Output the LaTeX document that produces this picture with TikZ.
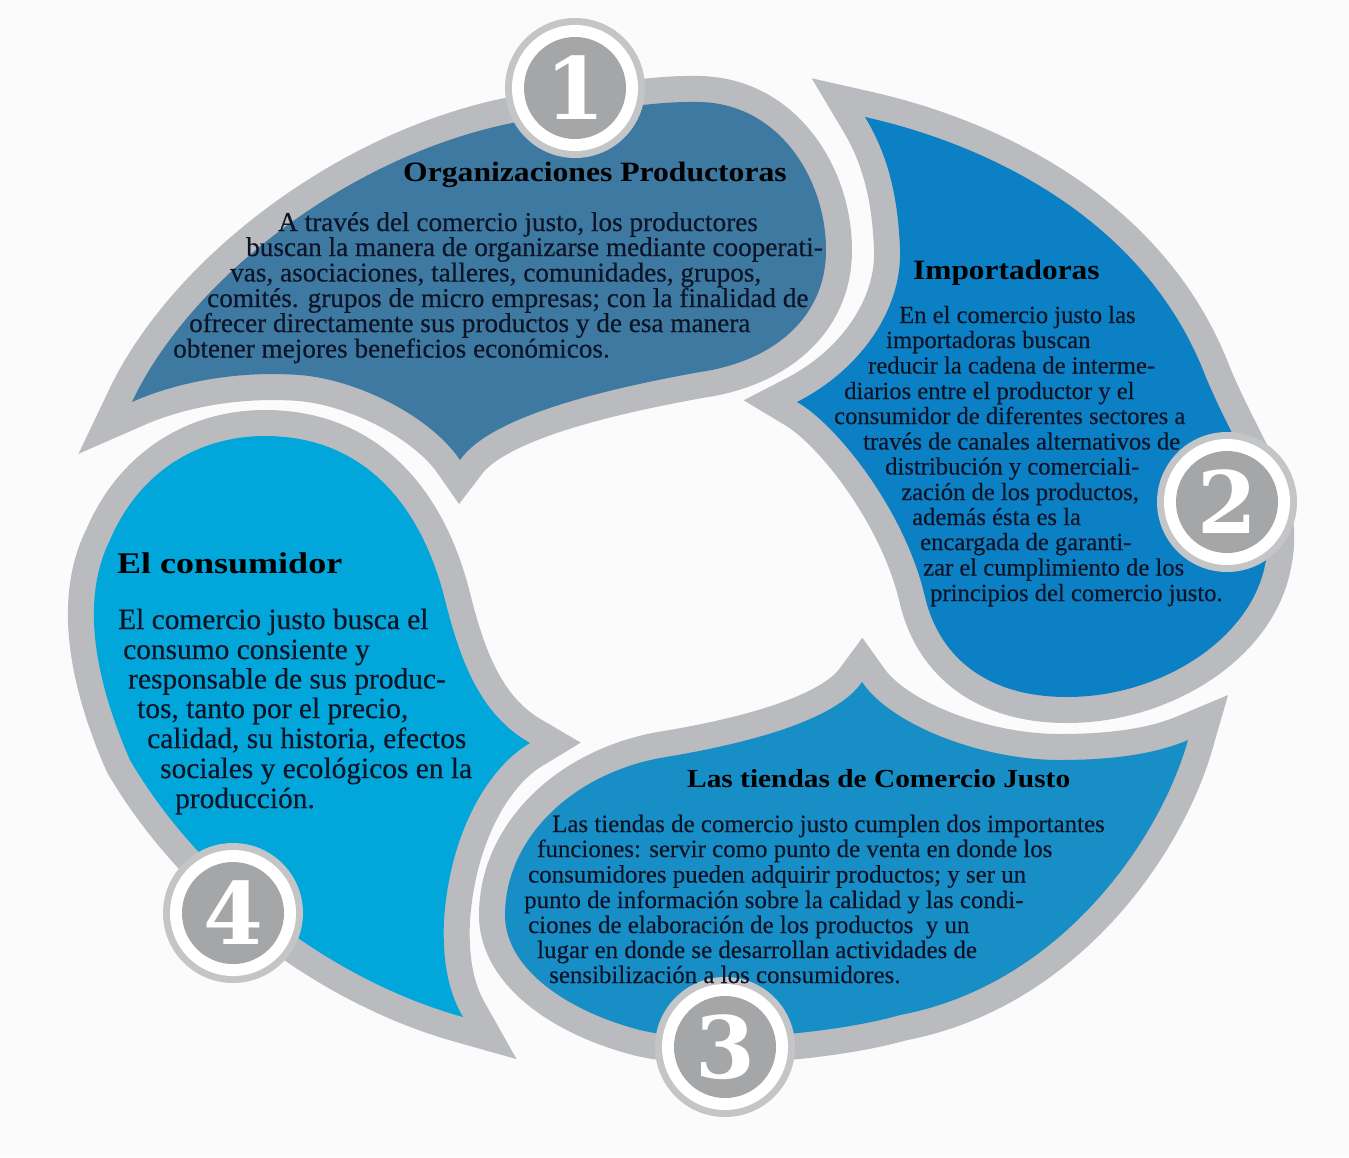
\documentclass[tikz,border=0pt]{standalone}
\usepackage{fontspec}
\setmainfont{Liberation Serif}
\newfontfamily\digitfont{DejaVu Serif}

\definecolor{bgcol}{RGB}{251,251,251}
\definecolor{bandgray}{RGB}{186,187,190}
\definecolor{orgblue}{RGB}{61,121,161}
\definecolor{impblue}{RGB}{11,128,196}
\definecolor{tieblue}{RGB}{24,142,199}
\definecolor{conblue}{RGB}{1,166,219}
\definecolor{diskgray}{RGB}{165,166,168}
\definecolor{ringgray}{RGB}{196,197,199}
\definecolor{inkcol}{RGB}{12,20,38}

% the four drops, in picture pixels (y grows downwards)
\def\shapeOrg{(826,250)
  .. controls (826,320) and (770,362) .. (700,372)
  .. controls (600,390) and (490,417) .. (460,460)
  .. controls (432,418) and (360,380) .. (300,375)
  .. controls (230,370) and (170,385) .. (132,402)
  .. controls (195,268) and (380,132) .. (560,116)
  .. controls (620,108) and (660,101) .. (700,102)
  .. controls (780,104) and (826,180) .. (826,250) -- cycle}
\def\shapeImp{(1265,565)
  .. controls (1250,640) and (1160,697) .. (1067,697)
  .. controls (990,697) and (940,660) .. (925,597)
  .. controls (905,510) and (836,424) .. (797,402)
  .. controls (860,370) and (902,310) .. (900,250)
  .. controls (898,190) and (885,150) .. (865,117)
  .. controls (990,145) and (1145,220) .. (1205,375)
  .. controls (1240,460) and (1280,500) .. (1265,565) -- cycle}
\def\shapeTie{(1060,760)
  .. controls (1120,760) and (1160,752) .. (1188,740)
  .. controls (1160,840) and (1060,985) .. (900,1015)
  .. controls (830,1035) and (700,1045) .. (640,1030)
  .. controls (570,1012) and (505,970) .. (505,915)
  .. controls (505,840) and (570,775) .. (660,758)
  .. controls (740,745) and (835,722) .. (862,682)
  .. controls (890,724) and (980,760) .. (1060,760) -- cycle}
\def\shapeCon{(110,540)
  .. controls (140,470) and (200,436) .. (265,436)
  .. controls (360,436) and (420,500) .. (445,600)
  .. controls (460,660) and (480,715) .. (530,743)
  .. controls (490,766) and (450,830) .. (444,920)
  .. controls (442,965) and (450,995) .. (463,1017)
  .. controls (330,980) and (200,880) .. (130,760)
  .. controls (95,680) and (80,600) .. (110,540) -- cycle}

\begin{document}
\begin{tikzpicture}[x=1pt,y=-1pt,
  band/.style={draw=bandgray,line width=52pt,line join=miter},
  txt/.style={anchor=base west,inner sep=0pt,text=inkcol},
  head/.style={txt,text=black},
  numdisk/.style={circle,inner sep=0pt,minimum size=102pt,fill=diskgray,
    text=white,font=\digitfont\bfseries\fontsize{86}{86}\selectfont}]

\fill[bgcol] (0,0) rectangle (1349,1157);
\useasboundingbox (0,0) rectangle (1349,1157);

% grey rims first, then the coloured drops
\path[band] \shapeOrg;
\path[band] \shapeImp;
\path[band] \shapeTie;
\path[band] \shapeCon;
\fill[orgblue] \shapeOrg;
\fill[impblue] \shapeImp;
\fill[tieblue] \shapeTie;
\fill[conblue] \shapeCon;

% numbered badges
\foreach \n/\cx/\cy in {1/575/88,2/1227/502,3/725/1047,4/233/913} {
  \fill[ringgray] (\cx,\cy) circle[radius=70pt];
  \fill[white] (\cx,\cy) circle[radius=63pt];
  \node[numdisk] (num\n) at (\cx,\cy) {\n};
}

% titles
\node[head,font=\bfseries\fontsize{28}{30}\selectfont\addfontfeatures{FakeStretch=1.13}]
  (orgtitle) at (403,181) {Organizaciones Productoras};
\node[head,font=\bfseries\fontsize{28}{30}\selectfont\addfontfeatures{FakeStretch=1.12}]
  (imptitle) at (913,279) {Importadoras};
\node[head,font=\bfseries\fontsize{26}{30}\selectfont\addfontfeatures{FakeStretch=1.13}]
  (tietitle) at (687,787) {Las tiendas de Comercio Justo};
\node[head,font=\bfseries\fontsize{30}{32}\selectfont\addfontfeatures{FakeStretch=1.2}]
  (contitle) at (117,573) {El consumidor};

% body lines
\foreach [count=\i] \x/\y/\t in {
  278/231/{A través del comercio justo, los productores},
  246/256/{buscan la manera de organizarse mediante cooperati-},
  230/281.5/{vas, asociaciones, talleres, comunidades, grupos,},
  207/307/{comités. grupos de micro empresas; con la finalidad de},
  189/332/{ofrecer directamente sus productos y de esa manera},
  173/357.5/{obtener mejores beneficios económicos.}}
  \node[txt,font=\fontsize{27.2}{30}\selectfont\addfontfeatures{FakeBold=0.4}] (org\i) at (\x,\y) {\t};

\foreach [count=\i] \x/\y/\t in {
  899/323/{En el comercio justo las},
  886/348/{importadoras buscan},
  868/373.5/{reducir la cadena de interme-},
  844/399/{diarios entre el productor y el},
  834/424/{consumidor de diferentes sectores a},
  863/449.5/{través de canales alternativos de},
  885/474.5/{distribución y comerciali-},
  901/500/{zación de los productos,},
  912/525/{además ésta es la},
  920/550/{encargada de garanti-},
  923/575.5/{zar el cumplimiento de los},
  930/601/{principios del comercio justo.}}
  \node[txt,font=\fontsize{24.6}{28}\selectfont\addfontfeatures{FakeBold=0.4}] (imp\i) at (\x,\y) {\t};

\foreach [count=\i] \x/\y/\t in {
  552/832/{Las tiendas de comercio justo cumplen dos importantes},
  537/857/{funciones: servir como punto de venta en donde los},
  528/882.5/{consumidores pueden adquirir productos; y ser un},
  524/908/{punto de información sobre la calidad y las condi-},
  528/933/{ciones de elaboración de los productos \ y un},
  537/958/{lugar en donde se desarrollan actividades de},
  549/983/{sensibilización a los consumidores.}}
  \node[txt,font=\fontsize{24.9}{28}\selectfont\addfontfeatures{FakeBold=0.4}] (tie\i) at (\x,\y) {\t};

\foreach [count=\i] \x/\y/\t in {
  118/629/{El comercio justo busca el},
  123/659/{consumo consiente y},
  128/688.5/{responsable de sus produc-},
  137/718/{tos, tanto por el precio,},
  147/748/{calidad, su historia, efectos},
  160/778/{sociales y ecológicos en la},
  175/808/{producción.}}
  \node[txt,font=\fontsize{29.4}{32}\selectfont\addfontfeatures{FakeBold=0.4}] (con\i) at (\x,\y) {\t};

\end{tikzpicture}
\end{document}
